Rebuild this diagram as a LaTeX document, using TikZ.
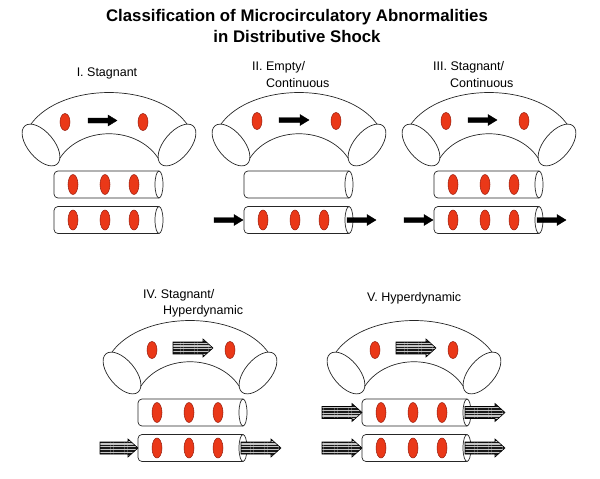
\documentclass[tikz,border=0pt]{standalone}
\usepackage{fontspec}
\setmainfont{Liberation Sans}
\usetikzlibrary{patterns.meta}
\definecolor{cellred}{RGB}{234,56,24}
\definecolor{celledge}{RGB}{150,30,15}

\tikzset{
  vessel/.style={draw=black!85,line width=0.7pt,fill=white},
  rbc/.style={draw=celledge,fill=cellred,line width=0.5pt},
  flowblack/.style={draw=black,fill=black,line width=0.4pt},
  flowstripe/.style={draw=black,line width=0.6pt,preaction={fill=gray!45},
    pattern={Lines[angle=0,distance=2.8pt,line width=1.5pt]},pattern color=black!90},
  paneltitle/.style={font=\fontsize{12.5}{14}\selectfont,inner sep=0pt},
  maintitle/.style={font=\bfseries\fontsize{16.8}{20}\selectfont,inner sep=0pt},
}

\newcommand{\vesselarch}{%
\draw[vessel,fill=none] (31,124) .. controls (62,82) and (156,82) .. (187,124);
\draw[vessel,fill=none] (57,163) .. controls (77,124) and (141,124) .. (161,163);
\draw[vessel,rotate around={-50:(41,145)}] (41,145) ellipse [x radius=25pt,y radius=13pt];
\draw[vessel,rotate around={50:(177,145)}] (177,145) ellipse [x radius=25pt,y radius=13pt];}
\newcommand{\vesseltube}[1]{%
\draw[vessel,rounded corners=4pt] (159,#1-13.5) -- (54,#1-13.5) -- (54,#1+13.5) -- (159,#1+13.5);
\draw[vessel] (159,#1) ellipse [x radius=4pt,y radius=13.5pt];}
\newcommand{\tubecells}[1]{%
\foreach \cx in {73,105,134} \draw[rbc] (\cx,#1) ellipse [x radius=5pt,y radius=10pt];}
\newcommand{\blackflow}[3]{%
\draw[flowblack] (#1,#3-2.5) -- (#2-9,#3-2.5) -- (#2-9,#3-5.5) -- (#2,#3) -- (#2-9,#3+5.5) -- (#2-9,#3+2.5) -- (#1,#3+2.5) -- cycle;}
\newcommand{\stripeflow}[3]{%
\draw[flowstripe] (#1,#3-6) -- (#2-10,#3-6) -- (#2-10,#3-9) -- (#2,#3) -- (#2-10,#3+9) -- (#2-10,#3+6) -- (#1,#3+6) -- cycle;}

\begin{document}
\begin{tikzpicture}[x=1pt,y=-1pt]
\useasboundingbox (0,0) rectangle (600,479);
\node[maintitle] (title1) at (297,17) {Classification of Microcirculatory Abnormalities};
\node[maintitle] (title2) at (297,36) {in Distributive Shock};

% I. stagnant
\begin{scope}
\node[paneltitle] (stagnant) at (107,73) {I. Stagnant};
\vesselarch
\draw[rbc] (65,122) ellipse [x radius=5pt,y radius=8.5pt];
\draw[rbc] (143,122) ellipse [x radius=5pt,y radius=8.5pt];
\blackflow{88}{117}{120.5}
\vesseltube{184.5}\tubecells{184.5}
\vesseltube{220}\tubecells{220}
\end{scope}

% II. empty / continuous
\begin{scope}[shift={(190,0)}]
\node[paneltitle,anchor=west] (empty) at (62,67) {II. Empty/};
\node[paneltitle,anchor=west] (emptycont) at (76,83) {Continuous};
\vesselarch
\draw[rbc] (67,121) ellipse [x radius=5pt,y radius=8.5pt];
\draw[rbc] (146,121) ellipse [x radius=5pt,y radius=8.5pt];
\blackflow{89}{119}{120}
\vesseltube{184.5}
\vesseltube{220}\tubecells{220}
\blackflow{24}{53}{220}
\blackflow{157}{186}{220}
\end{scope}

% III. stagnant / continuous
\begin{scope}[shift={(380,0)}]
\node[paneltitle,anchor=west] (stagcont) at (53,67) {III. Stagnant/};
\node[paneltitle,anchor=west] (stagcontb) at (70,83) {Continuous};
\vesselarch
\draw[rbc] (66,121) ellipse [x radius=5pt,y radius=8.5pt];
\draw[rbc] (144,121) ellipse [x radius=5pt,y radius=8.5pt];
\blackflow{88}{117}{120}
\vesseltube{184.5}\tubecells{184.5}
\vesseltube{220}\tubecells{220}
\blackflow{24}{53}{220}
\blackflow{157}{186}{220}
\end{scope}

% IV. stagnant / hyperdynamic
\begin{scope}[shift={(81,228)}]
\node[paneltitle,anchor=west] (staghyper) at (62,67) {IV. Stagnant/};
\node[paneltitle,anchor=west] (staghyperb) at (82,83) {Hyperdynamic};
\vesselarch
\draw[rbc] (71,122) ellipse [x radius=5pt,y radius=8.5pt];
\draw[rbc] (149,122) ellipse [x radius=5pt,y radius=8.5pt];
\stripeflow{92}{132}{120}
\begin{scope}[shift={(3,0)}]
\vesseltube{184.5}\tubecells{184.5}
\vesseltube{220}\tubecells{220}
\stripeflow{16}{54}{220}
\stripeflow{157}{197}{220}
\end{scope}
\end{scope}

% V. hyperdynamic
\begin{scope}[shift={(305,228)}]
\node[paneltitle,anchor=west] (hyper) at (62,70) {V. Hyperdynamic};
\vesselarch
\draw[rbc] (70,122) ellipse [x radius=5pt,y radius=8.5pt];
\draw[rbc] (148,122) ellipse [x radius=5pt,y radius=8.5pt];
\stripeflow{91}{131}{120}
\begin{scope}[shift={(3,0)}]
\vesseltube{184.5}\tubecells{184.5}
\vesseltube{220}\tubecells{220}
\stripeflow{14}{54}{184.5}
\stripeflow{157}{197}{184.5}
\stripeflow{14}{54}{220}
\stripeflow{157}{197}{220}
\end{scope}
\end{scope}

\end{tikzpicture}
\end{document}
